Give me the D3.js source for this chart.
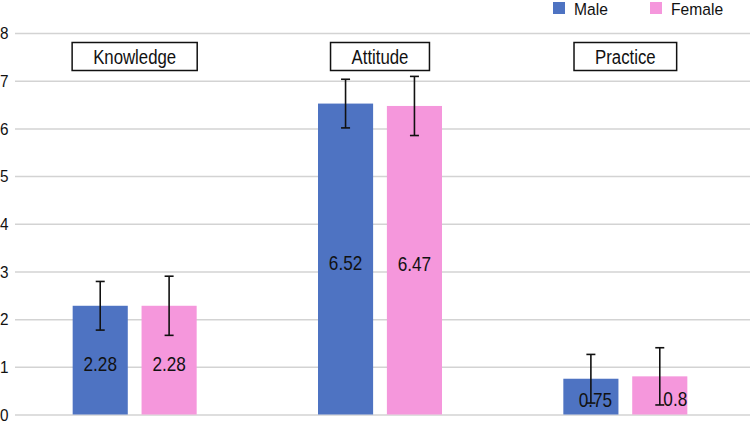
<!DOCTYPE html>
<html>
<head>
<meta charset="utf-8">
<script src="https://cdn.jsdelivr.net/npm/d3@7"></script>
<style>
  body { margin: 0; background: #fff; }
  svg { display: block; font-family: "Liberation Sans", Arial, sans-serif; }
</style>
</head>
<body>
<svg id="chart" width="750" height="423"></svg>
<script>
// data
const categories = ['Knowledge', 'Attitude', 'Practice'];
const seriesNames = ['Male', 'Female'];
const maleValues = [2.28, 6.52, 0.75];
const femaleValues = [2.28, 6.47, 0.8];
const maleErrors = [0.51, 0.51, 0.51];
const femaleErrors = [0.62, 0.62, 0.6];
const yTicks = [0, 1, 2, 3, 4, 5, 6, 7, 8];

// label shifts seen in the Practice group
const labelNudge = { Male: [0, 0, 4.5], Female: [0, 0, 15.5] };

const colors = { Male: '#4e73c2', Female: '#f597dc' };

const rows = categories.map((c, i) => ({
    category: c,
    bars: [
        { series: 'Male', value: maleValues[i], err: maleErrors[i], i },
        { series: 'Female', value: femaleValues[i], err: femaleErrors[i], i }
    ]
}));

const svg = d3.select('#chart');

const y = d3.scaleLinear().domain([0, 8]).range([414.5, 33]);
const x0 = d3.scaleBand().domain(categories).range([12, 748]);
const x1 = d3.scaleBand().domain(seriesNames)
    .range([x0.bandwidth() / 2 - 62, x0.bandwidth() / 2 + 62])
    .paddingInner(0.2);

// condensed-looking text: translate, then squeeze horizontally
const at = (x, yy, s) => `translate(${x},${yy}) scale(${s},1)`;

// grid
svg.append('g')
    .attr('transform', 'translate(15,0)')
    .call(d3.axisRight(y).tickValues(yTicks).tickSize(735).tickFormat(''))
    .call(g => g.select('.domain').remove())
    .call(g => g.selectAll('line').attr('stroke', '#d3d3d3').attr('stroke-width', 1.5));

// y tick labels
svg.append('g')
    .selectAll('text')
    .data(yTicks)
    .join('text')
    .attr('transform', d => at(0, y(d), 0.9))
    .attr('dy', '0.36em')
    .attr('font-size', 17)
    .attr('fill', '#111')
    .text(d => d);

// bars
const groups = svg.append('g')
    .selectAll('g')
    .data(rows)
    .join('g')
    .attr('transform', d => `translate(${x0(d.category)},0)`);

groups.selectAll('rect')
    .data(d => d.bars)
    .join('rect')
    .attr('x', d => x1(d.series))
    .attr('y', d => y(d.value))
    .attr('width', x1.bandwidth())
    .attr('height', d => y(0) - y(d.value))
    .attr('fill', d => colors[d.series]);

// error bars
const errs = groups.selectAll('g.err')
    .data(d => d.bars)
    .join('g')
    .attr('class', 'err')
    .attr('stroke', '#111')
    .attr('stroke-width', 1.6);

errs.append('line')
    .attr('x1', d => x1(d.series) + x1.bandwidth() / 2)
    .attr('x2', d => x1(d.series) + x1.bandwidth() / 2)
    .attr('y1', d => y(d.value + d.err))
    .attr('y2', d => y(d.value - d.err));

[1, -1].forEach(s => {
    errs.append('line')
        .attr('x1', d => x1(d.series) + x1.bandwidth() / 2 - 4.5)
        .attr('x2', d => x1(d.series) + x1.bandwidth() / 2 + 4.5)
        .attr('y1', d => y(d.value + s * d.err))
        .attr('y2', d => y(d.value + s * d.err));
});

// value labels
groups.selectAll('text.val')
    .data(d => d.bars)
    .join('text')
    .attr('class', 'val')
    .attr('transform', d => at(
        x1(d.series) + x1.bandwidth() / 2 + labelNudge[d.series][d.i],
        (y(d.value) + y(0)) / 2 + 10.5, 0.86))
    .attr('text-anchor', 'middle')
    .attr('font-size', 20)
    .attr('fill', '#111')
    .text(d => d.value);

// category title boxes
const titles = svg.append('g')
    .selectAll('g')
    .data(categories)
    .join('g')
    .attr('transform', d => `translate(${x0(d) + x0.bandwidth() / 2},56.5)`);

titles.append('text')
    .attr('transform', 'scale(0.8,1)')
    .attr('text-anchor', 'middle')
    .attr('dy', '0.36em')
    .attr('font-size', 21)
    .attr('fill', '#111')
    .text(d => d);

titles.insert('rect', 'text')
    .each(function () {
        const w = this.parentNode.querySelector('text').getBBox().width * 0.8 + 42;
        d3.select(this)
            .attr('x', -w / 2)
            .attr('y', -14)
            .attr('width', w)
            .attr('height', 28);
    })
    .attr('fill', '#fff')
    .attr('stroke', '#111')
    .attr('stroke-width', 1.5);

// legend
const legend = svg.append('g')
    .selectAll('g')
    .data(seriesNames)
    .join('g')
    .attr('transform', (d, i) => `translate(${553 + i * 97},2)`);

legend.append('rect')
    .attr('width', 12)
    .attr('height', 12)
    .attr('fill', d => colors[d]);

legend.append('text')
    .attr('transform', at(21, 13, 0.92))
    .attr('font-size', 17)
    .attr('fill', '#111')
    .text(d => d);
</script>
</body>
</html>
